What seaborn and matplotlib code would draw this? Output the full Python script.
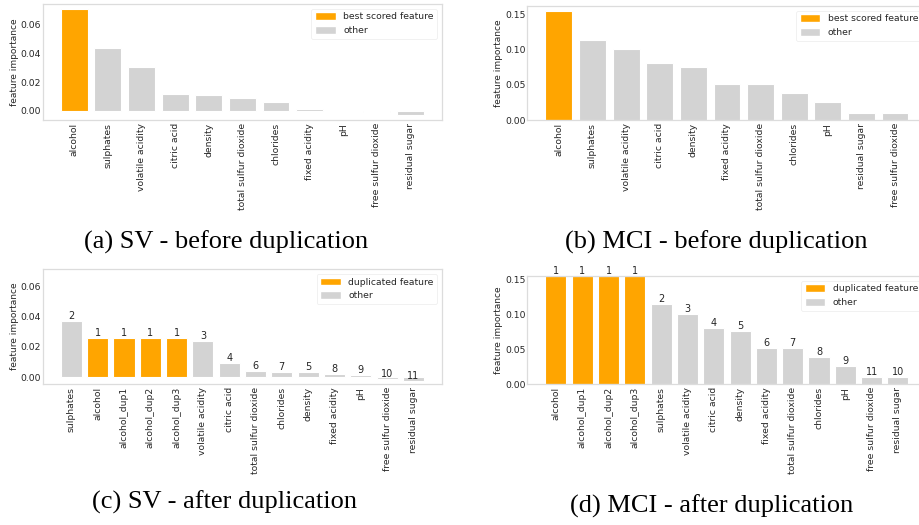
import matplotlib
matplotlib.use("Agg")
import matplotlib.pyplot as plt
from matplotlib.patches import Patch
import seaborn as sns
import pandas as pd

# ---- data -------------------------------------------------------------
sv_before_features = ["alcohol", "sulphates", "volatile acidity", "citric acid", "density",
                      "total sulfur dioxide", "chlorides", "fixed acidity", "pH",
                      "free sulfur dioxide", "residual sugar"]
sv_before_values = [0.0710, 0.0442, 0.0307, 0.0116, 0.0107, 0.0091, 0.0061, 0.0014, 0.0,
                    -0.0012, -0.0028]

mci_before_features = ["alcohol", "sulphates", "volatile acidity", "citric acid", "density",
                       "fixed acidity", "total sulfur dioxide", "chlorides", "pH",
                       "residual sugar", "free sulfur dioxide"]
mci_before_values = [0.155, 0.1147, 0.1010, 0.0810, 0.0762, 0.0519, 0.0519, 0.0390, 0.0253,
                     0.0105, 0.0095]

sv_after_features = ["sulphates", "alcohol", "alcohol_dup1", "alcohol_dup2", "alcohol_dup3",
                     "volatile acidity", "citric acid", "total sulfur dioxide", "chlorides",
                     "density", "fixed acidity", "pH", "free sulfur dioxide", "residual sugar"]
sv_after_values = [0.0370, 0.0258, 0.0258, 0.0258, 0.0258, 0.0238, 0.0092, 0.0041, 0.0035,
                   0.0034, 0.0024, 0.0015, -0.0011, -0.0022]
sv_after_ranks = [2, 1, 1, 1, 1, 3, 4, 6, 7, 5, 8, 9, 10, 11]

mci_after_features = ["alcohol", "alcohol_dup1", "alcohol_dup2", "alcohol_dup3", "sulphates",
                      "volatile acidity", "citric acid", "density", "fixed acidity",
                      "total sulfur dioxide", "chlorides", "pH", "free sulfur dioxide",
                      "residual sugar"]
mci_after_values = [0.155, 0.155, 0.155, 0.155, 0.1144, 0.1001, 0.0807, 0.0759, 0.0517,
                    0.0517, 0.0389, 0.0256, 0.0104, 0.0104]
mci_after_ranks = [1, 1, 1, 1, 2, 3, 4, 5, 6, 7, 8, 9, 11, 10]

best_features = ["alcohol"]
duplicated_features = ["alcohol", "alcohol_dup1", "alcohol_dup2", "alcohol_dup3"]

captions = ["(a) SV - before duplication", "(b) MCI - before duplication",
            "(c) SV - after duplication", "(d) MCI - after duplication"]

# ---- style ------------------------------------------------------------
sns.set_theme(style="white")
plt.rcParams["font.family"] = ["DejaVu Sans"]
ORANGE = "#ffa500"
GRAY = "#d3d3d3"
TXT = "#262626"
FS = 6.7

W, H = 919, 525
fig = plt.figure(figsize=(W / 100, H / 100), dpi=100)


def axes_px(left, top, right, bottom):
    return fig.add_axes([left / W, 1 - bottom / H, (right - left) / W, (bottom - top) / H])


def panel(ax, features, values, highlight, hl_label, yticks, ylim=None, ranks=None):
    df = pd.DataFrame({
        "feature": features,
        "importance": values,
        "group": [hl_label if f in highlight else "other" for f in features],
    })
    sns.barplot(data=df, x="feature", y="importance", hue="group",
                hue_order=[hl_label, "other"], palette=[ORANGE, GRAY], saturation=1,
                order=features, dodge=False, width=0.8, ax=ax,
                edgecolor="white", linewidth=0.8, legend=False)
    n = len(features)
    pad = 0.05 * (n - 0.2)
    ax.set_xlim(-0.4 - pad, n - 0.6 + pad)
    if ylim is not None:
        ax.set_ylim(*ylim)
    ax.set_yticks(yticks)
    ax.set_yticklabels([f"{t:.2f}" for t in yticks])
    ax.set_xlabel("")
    ax.set_ylabel("feature importance", fontsize=FS - 0.2, color=TXT)
    ax.yaxis.set_label_coords(-0.06, 0.5)
    ax.tick_params(axis="x", labelrotation=90, labelsize=FS, length=0, pad=2, colors=TXT)
    ax.tick_params(axis="y", labelsize=FS, length=0, pad=1, colors=TXT)
    for s in ax.spines.values():
        s.set_color("#dcdcdc")
        s.set_linewidth(0.9)
    if ranks is not None:
        for i, (v, r) in enumerate(zip(values, ranks)):
            ax.text(i, v, str(r), ha="center", va="bottom", fontsize=FS + 0.3,
                    color=TXT, clip_on=False)
    handles = [Patch(facecolor=ORANGE, label=hl_label), Patch(facecolor=GRAY, label="other")]
    leg = ax.legend(handles=handles, loc="upper right", fontsize=FS, frameon=True,
                    fancybox=True, framealpha=0.8, borderaxespad=0.5,
                    handleheight=0.9, handlelength=2.2)
    leg.get_frame().set_edgecolor("#ebebeb")
    leg.get_frame().set_linewidth(0.6)


ax_a = axes_px(42.7, 4, 442, 120)
panel(ax_a, sv_before_features, sv_before_values, best_features, "best scored feature",
      [0.0, 0.02, 0.04, 0.06])

ax_b = axes_px(527.3, 6, 926.6, 120)
panel(ax_b, mci_before_features, mci_before_values, best_features, "best scored feature",
      [0.0, 0.05, 0.10, 0.15])

ax_c = axes_px(42.7, 269.3, 442, 384)
panel(ax_c, sv_after_features, sv_after_values, duplicated_features, "duplicated feature",
      [0.0, 0.02, 0.04, 0.06], ylim=(-0.0044, 0.071), ranks=sv_after_ranks)

ax_d = axes_px(527.3, 276, 926.6, 384.3)
panel(ax_d, mci_after_features, mci_after_values, duplicated_features, "duplicated feature",
      [0.0, 0.05, 0.10, 0.15], ylim=(0, 0.155), ranks=mci_after_ranks)

# ---- captions ---------------------------------------------------------
caption_pos = [(226, 242.5), (716, 242.5), (225, 502), (711.5, 506)]
for text, (cx, cy) in zip(captions, caption_pos):
    fig.text(cx / W, 1 - cy / H, text, ha="center", va="center",
             fontsize=19, family=["Liberation Serif", "DejaVu Serif"], color="black")

fig.savefig("out.png", dpi=100)
